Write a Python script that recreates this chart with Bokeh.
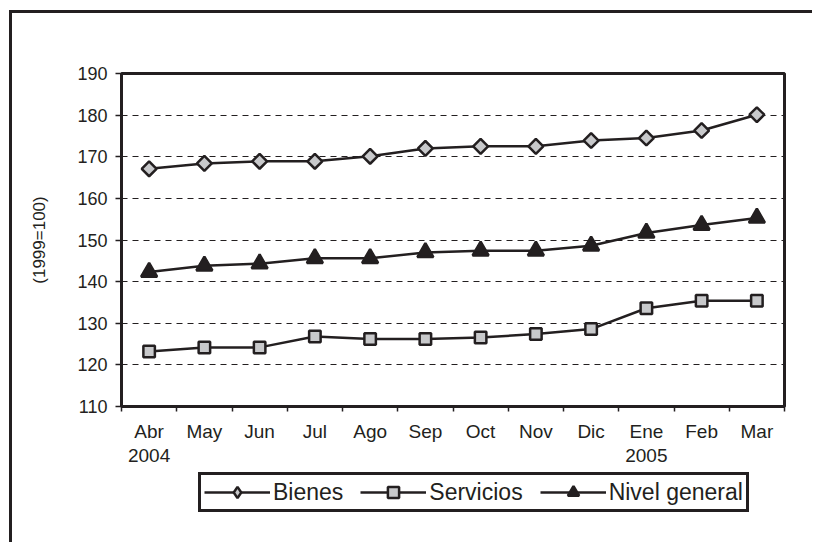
from bokeh.plotting import figure
from bokeh.models import FixedTicker, Range1d, Legend, LegendItem
from bokeh.layouts import column
from bokeh.embed import file_html
from bokeh.resources import INLINE

months = ["Abr", "May", "Jun", "Jul", "Ago", "Sep", "Oct", "Nov", "Dic", "Ene", "Feb", "Mar"]
year_labels = {"Abr": "2004", "Ene": "2005"}
bienes = [167.1, 168.4, 168.9, 168.9, 170.1, 172.0, 172.5, 172.5, 173.9, 174.5, 176.3, 180.1]
servicios = [123.2, 124.2, 124.2, 126.8, 126.2, 126.2, 126.6, 127.4, 128.6, 133.6, 135.4, 135.4]
nivel_general = [142.3, 143.8, 144.3, 145.6, 145.6, 147.0, 147.4, 147.4, 148.6, 151.7, 153.6, 155.3]
y_ticks = [110, 120, 130, 140, 150, 160, 170, 180, 190]
y_axis_title = "(1999=100)"

INK = "#231f20"
FILL = "#c8c9cb"
FONT = "Liberation Sans"

x = [i + 0.5 for i in range(len(months))]

p = figure(frame_width=663, frame_height=333,
           x_range=Range1d(0, len(months)), y_range=Range1d(y_ticks[0], y_ticks[-1]),
           output_backend="svg", toolbar_location=None,
           min_border_left=109, min_border_right=28, min_border_top=60, min_border_bottom=58)
p.background_fill_color = "white"
p.border_fill_color = "white"
p.outline_line_color = INK
p.outline_line_width = 3

# x axis
xt = FixedTicker(ticks=x, minor_ticks=list(range(len(months) + 1)))
p.xaxis.ticker = xt
p.xaxis.major_label_overrides = {
    xi: (m + "\n" + year_labels[m]) if m in year_labels else m for xi, m in zip(x, months)
}
p.xaxis.major_tick_line_color = None
p.xaxis.major_tick_out = 5
p.xaxis.major_tick_in = 0
p.xaxis.minor_tick_out = 5
p.xaxis.minor_tick_in = 0
p.xaxis.minor_tick_line_color = INK
p.xaxis.minor_tick_line_width = 1.5
p.xaxis.axis_line_color = INK
p.xaxis.axis_line_width = 3
p.xaxis.major_label_standoff = 9
p.xaxis.major_label_text_font = FONT
p.xaxis.major_label_text_font_size = "19px"
p.xaxis.major_label_text_color = INK
p.xaxis.major_label_text_line_height = 1.15

# y axis
yt = FixedTicker(ticks=y_ticks)
p.yaxis.ticker = yt
p.yaxis.minor_tick_line_color = None
p.yaxis.major_tick_out = 6
p.yaxis.major_tick_in = 0
p.yaxis.major_tick_line_color = INK
p.yaxis.major_tick_line_width = 1.5
p.yaxis.axis_line_color = INK
p.yaxis.axis_line_width = 3
p.yaxis.major_label_standoff = 8
p.yaxis.major_label_text_font = FONT
p.yaxis.major_label_text_font_size = "18px"
p.yaxis.major_label_text_color = INK
p.yaxis.axis_label = y_axis_title
p.yaxis.axis_label_text_font = FONT
p.yaxis.axis_label_text_font_size = "17px"
p.yaxis.axis_label_text_font_style = "normal"
p.yaxis.axis_label_text_color = INK
p.yaxis.axis_label_standoff = 25

p.xgrid.visible = False
p.ygrid.ticker = yt
p.ygrid.grid_line_color = INK
p.ygrid.grid_line_width = 1
p.ygrid.grid_line_dash = "6 5"

# (label, values, plot marker, size, angle, fill, legend marker)
series = [
    ("Bienes", bienes, "square", 10.5, 0.785398, FILL, "diamond"),
    ("Servicios", servicios, "square", 11.5, 0.0, FILL, "square"),
    ("Nivel general", nivel_general, "triangle", 16, 0.0, INK, "triangle"),
]

# legend strip below the chart (its frame is aligned with the chart's frame)
lg = figure(width=p.frame_width + 109 + 28, height=75,
            x_range=Range1d(0, 0.1), y_range=Range1d(0, 0.1),
            x_axis_type=None, y_axis_type=None,
            output_backend="svg", toolbar_location=None,
            min_border_left=0, min_border_right=0, min_border_top=0, min_border_bottom=0)
lg.outline_line_color = None
lg.background_fill_color = "white"
lg.border_fill_color = "white"

items = []
for label, ys, marker, size, angle, fill, lmarker in series:
    p.line(x, ys, line_color=INK, line_width=2.5)
    p.scatter(x, ys, marker=marker, size=size, angle=angle,
              fill_color=fill, line_color=INK, line_width=2.5)
    # same series in the legend strip, outside its visible range: only the legend shows
    ln = lg.line(x, ys, line_color=INK, line_width=2.5)
    sc = lg.scatter(x, ys, marker=lmarker, size=size,
                    fill_color=fill, line_color=INK, line_width=2.5)
    items.append(LegendItem(label=label, renderers=[ln, sc]))

legend = Legend(items=items, orientation="horizontal", location=(77, 31),
                border_line_color=INK, border_line_width=3, border_line_alpha=1.0,
                padding=3, spacing=17, label_standoff=3,
                glyph_width=66, glyph_height=28, margin=0,
                label_text_font=FONT, label_text_font_size="23px",
                label_text_color=INK, background_fill_color="white",
                background_fill_alpha=1.0)
lg.add_layout(legend, "center")

layout = column(p, lg, spacing=0)
layout.styles = {"border-left": "3px solid #231f20", "border-top": "3px solid #231f20",
                 "margin-left": "9px", "margin-top": "10px"}

open("out.html", "w").write(file_html(layout, INLINE))
